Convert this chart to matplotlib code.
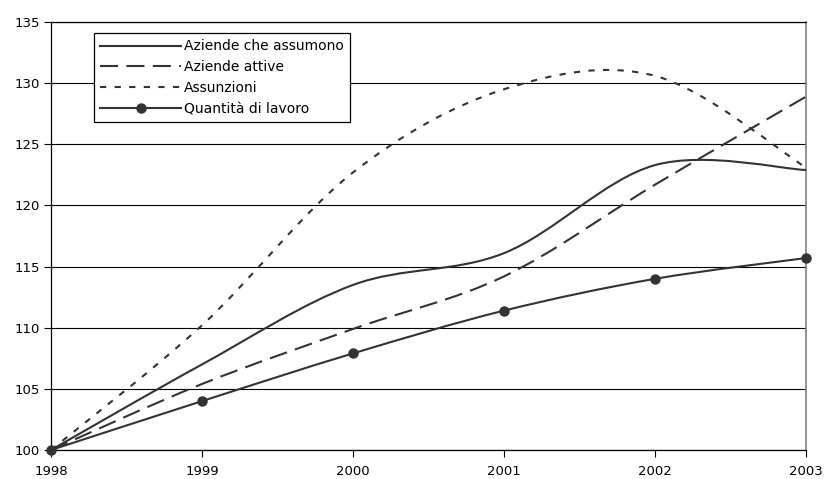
import numpy as np
import matplotlib
matplotlib.use("Agg")
import matplotlib.pyplot as plt
from matplotlib.path import Path
from matplotlib.patches import PathPatch
from matplotlib.lines import Line2D

plt.rcParams['font.family'] = ['DejaVu Sans']
plt.rcParams['lines.scale_dashes'] = False

# indici (1998 = 100)
anni = [1998, 1999, 2000, 2001, 2002, 2003]
aziende_assumono = [100, 107.0, 113.5, 116.1, 123.3, 122.9]
aziende_attive = [100, 105.4, 109.9, 114.2, 121.7, 128.9]
assunzioni = [100, 110.2, 122.7, 129.5, 130.6, 123.1]
quantita_lavoro = [100, 104.0, 107.9, 111.4, 114.0, 115.7]

etichette = ["Aziende che assumono", "Aziende attive", "Assunzioni",
             "Quantità di lavoro"]

COL = "#333333"
LW = 1.5


def smooth_path(x, y):
    """Curva di Bezier tipo 'linea smussata' di Excel (Catmull-Rom)."""
    x = np.asarray(x, float)
    y = np.asarray(y, float)
    pts = np.column_stack([x, y])
    n = len(pts)
    verts = [pts[0]]
    codes = [Path.MOVETO]
    for i in range(n - 1):
        p0 = pts[max(i - 1, 0)]
        p1 = pts[i]
        p2 = pts[i + 1]
        p3 = pts[min(i + 2, n - 1)]
        c1 = p1 + (p2 - p0) / 6.0
        c2 = p2 - (p3 - p1) / 6.0
        verts += [c1, c2, p2]
        codes += [Path.CURVE4] * 3
    return Path(verts, codes)


fig = plt.figure(figsize=(8.25, 4.79), dpi=100)
ax = fig.add_axes([0.0618, 0.0605, 0.9152, 0.8935])

stili = [
    (aziende_assumono, '-'),
    (aziende_attive, (0, (13, 6))),
    (assunzioni, (0, (4.5, 6))),
    (quantita_lavoro, '-'),
]
for serie, ls in stili:
    patch = PathPatch(smooth_path(anni, serie), fill=False, edgecolor=COL,
                      linewidth=LW, linestyle=ls, capstyle='butt', zorder=3)
    ax.add_patch(patch)

ax.plot(anni, quantita_lavoro, linestyle='none', marker='o', markersize=6.5,
        color=COL, zorder=4, clip_on=False)

ax.set_xlim(1998, 2003)
ax.set_ylim(100, 135)
ax.set_xticks(anni)
ax.set_yticks(np.arange(100, 136, 5))
ax.tick_params(axis='both', direction='out', length=5, width=0.8,
               labelsize=9.5, colors='black')
ax.tick_params(axis='x', pad=6)
ax.tick_params(axis='y', pad=3)

ax.yaxis.grid(True, color='black', linewidth=0.8)
ax.set_axisbelow(True)
for side in ['left', 'bottom', 'top']:
    ax.spines[side].set_color('black')
    ax.spines[side].set_linewidth(0.9)
ax.spines['right'].set_color('#808080')
ax.spines['right'].set_linewidth(1.2)

handles = [
    Line2D([], [], color=COL, linewidth=LW, linestyle='-'),
    Line2D([], [], color=COL, linewidth=LW, linestyle=(0, (13, 6))),
    Line2D([], [], color=COL, linewidth=LW, linestyle=(0, (4.5, 6))),
    Line2D([], [], color=COL, linewidth=LW, linestyle='-', marker='o',
           markersize=6.5),
]
leg = ax.legend(handles, etichette, loc='upper left',
                bbox_to_anchor=(0.057, 0.974), borderaxespad=0,
                fontsize=10, handlelength=5.8, handletextpad=0.2,
                labelspacing=0.5, borderpad=0.45, fancybox=False,
                framealpha=1, edgecolor='black')
leg.get_frame().set_linewidth(0.9)
leg.set_zorder(5)

fig.savefig("out.png", dpi=100)
